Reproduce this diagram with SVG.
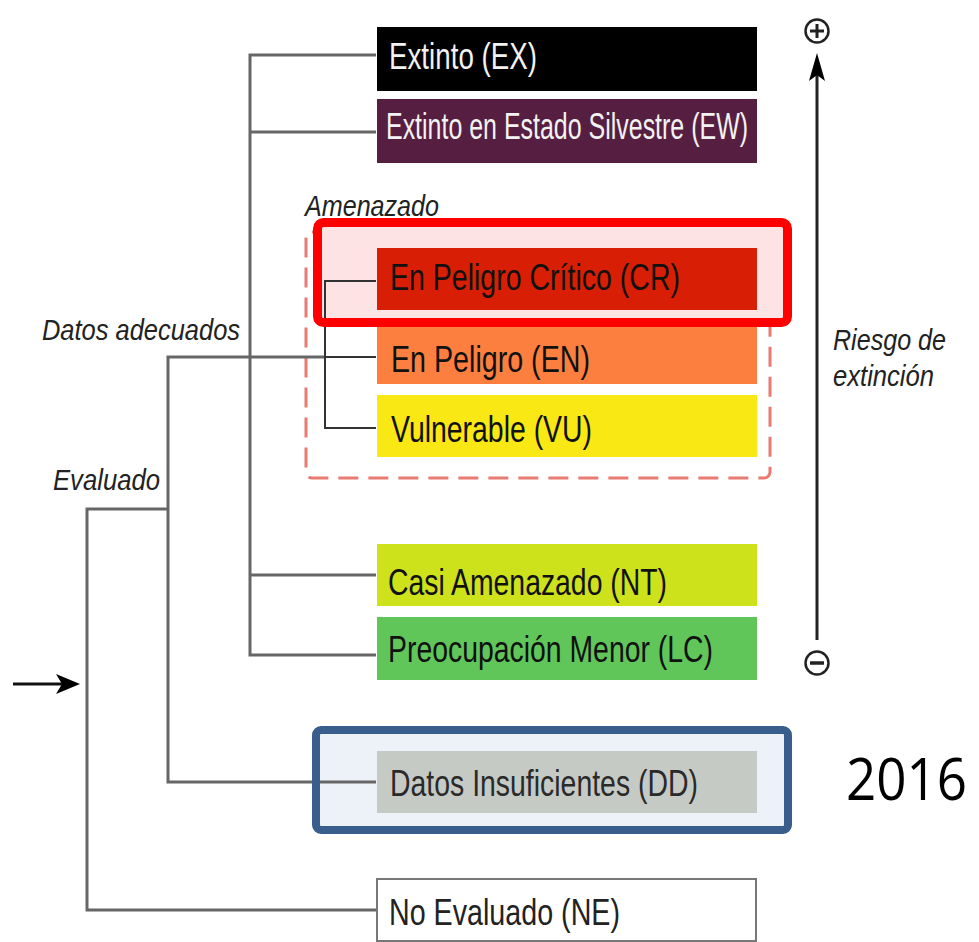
<svg xmlns="http://www.w3.org/2000/svg" width="979" height="942" viewBox="0 0 979 942">
<defs>
<style>
.lbl{font-family:"Liberation Sans",Arial,sans-serif;font-size:36px;fill:#111;}
.wht{fill:#f2f2f2;}
.it{font-family:"Liberation Sans",Arial,sans-serif;font-style:italic;font-size:30px;fill:#222;}
.ln{stroke:#666;stroke-width:3;fill:none;}
.thin{stroke:#333;stroke-width:2;fill:none;}
</style>
<marker id="ahL" viewBox="0 0 24 20" refX="14" refY="10" markerWidth="24" markerHeight="20" markerUnits="userSpaceOnUse" orient="auto">
<path d="M0,0 L24,10 L0,20 L6,10 z" fill="#000"/>
</marker>
<marker id="ahU" viewBox="0 0 28 16" refX="20" refY="8" markerWidth="28" markerHeight="16" markerUnits="userSpaceOnUse" orient="auto">
<path d="M0,0 L28,8 L0,16 L6,8 z" fill="#000"/>
</marker>
</defs>
<rect width="979" height="942" fill="#fff"/>

<g id="amenazado-group">
<rect x="306" y="232" width="464" height="246" rx="6" fill="none" stroke="#ea7b72" stroke-width="3" stroke-dasharray="20 10"/>
<text class="it" x="305" y="216" font-size="24" textLength="134" lengthAdjust="spacingAndGlyphs">Amenazado</text>
</g>
<rect id="cr-highlight-fill" x="318" y="223" width="469" height="99" fill="#fde3e3"/>
<rect id="dd-highlight-fill" x="316" y="730" width="472" height="100" fill="#edf1f8"/>

<g id="connectors">
<polyline class="ln" points="376,55 250,55 250,655 376,655"/>
<line class="ln" x1="250" y1="132" x2="376" y2="132"/>
<line class="ln" x1="250" y1="575" x2="376" y2="575"/>
<polyline class="ln" points="376,782 168,782 168,357 325,357"/>
<line class="thin" x1="325" y1="357" x2="376" y2="357"/>
<polyline class="thin" points="376,281 325,281 325,428 376,428"/>
<polyline class="ln" points="168,509 87,509 87,910 376,910"/>
<line stroke="#111" stroke-width="3" x1="13" y1="684" x2="70" y2="684" marker-end="url(#ahL)"/>
<line stroke="#222" stroke-width="3" x1="817" y1="640" x2="817" y2="61" marker-end="url(#ahU)"/>
</g>

<g id="EX"><rect x="377" y="27" width="380" height="64" fill="#000"/><text class="lbl wht" x="389" y="69" textLength="148" lengthAdjust="spacingAndGlyphs">Extinto (EX)</text></g>
<g id="EW"><rect x="377" y="99" width="380" height="64" fill="#561f41"/><text class="lbl wht" x="386" y="139" font-size="33" textLength="362" lengthAdjust="spacingAndGlyphs">Extinto en Estado Silvestre (EW)</text></g>
<g id="CR"><rect x="377" y="248" width="380" height="62" fill="#d81e05"/><text class="lbl" x="390" y="290" textLength="290" lengthAdjust="spacingAndGlyphs">En Peligro Crítico (CR)</text></g>
<g id="EN"><rect x="377" y="321" width="380" height="63" fill="#fc7f3f"/><text class="lbl" x="391" y="372" textLength="199" lengthAdjust="spacingAndGlyphs">En Peligro (EN)</text></g>
<g id="VU"><rect x="377" y="395" width="380" height="62" fill="#f9e814"/><text class="lbl" x="391" y="442" textLength="201" lengthAdjust="spacingAndGlyphs">Vulnerable (VU)</text></g>
<g id="NT"><rect x="377" y="544" width="380" height="62" fill="#cee21b"/><text class="lbl" x="388" y="595" textLength="279" lengthAdjust="spacingAndGlyphs">Casi Amenazado (NT)</text></g>
<g id="LC"><rect x="377" y="617" width="380" height="63" fill="#60c659"/><text class="lbl" x="388" y="662" textLength="325" lengthAdjust="spacingAndGlyphs">Preocupación Menor (LC)</text></g>
<g id="DD"><rect x="377" y="751" width="380" height="62" fill="#c6cac5"/><text class="lbl" x="390" y="796" style="fill:#2a2a2a" textLength="308" lengthAdjust="spacingAndGlyphs">Datos Insuficientes (DD)</text></g>
<g id="NE"><rect x="377" y="879" width="379" height="62" fill="#fff" stroke="#777" stroke-width="2"/><text class="lbl" x="389" y="925" style="fill:#222" textLength="231" lengthAdjust="spacingAndGlyphs">No Evaluado (NE)</text></g>

<rect id="cr-highlight" x="317.5" y="222.5" width="470" height="100" rx="6" fill="none" stroke="#ff0000" stroke-width="9"/>
<rect id="dd-highlight" x="316" y="730" width="472" height="100" rx="5" fill="none" stroke="#3a5e8c" stroke-width="8"/>

<g id="labels">
<text class="it" x="42" y="340" textLength="198" lengthAdjust="spacingAndGlyphs">Datos adecuados</text>
<text class="it" x="53" y="490" textLength="107" lengthAdjust="spacingAndGlyphs">Evaluado</text>
<text class="it" x="833" y="350" font-size="28" textLength="113" lengthAdjust="spacingAndGlyphs">Riesgo de</text>
<text class="it" x="833" y="386" font-size="28" textLength="101" lengthAdjust="spacingAndGlyphs">extinción</text>
<text x="846" y="800" font-family="'Open Sans','Noto Sans',sans-serif" font-size="58" fill="#000" textLength="121" lengthAdjust="spacingAndGlyphs">2016</text>
</g>

<g id="plus">
<circle cx="817" cy="31" r="11.5" fill="none" stroke="#222" stroke-width="2.5"/>
<line x1="810" y1="31" x2="824" y2="31" stroke="#222" stroke-width="3"/>
<line x1="817" y1="24" x2="817" y2="38" stroke="#222" stroke-width="3"/>
</g>
<g id="minus">
<circle cx="817" cy="663" r="11.5" fill="none" stroke="#222" stroke-width="2.5"/>
<line x1="810" y1="663" x2="824" y2="663" stroke="#222" stroke-width="3.5"/>
</g>
</svg>
